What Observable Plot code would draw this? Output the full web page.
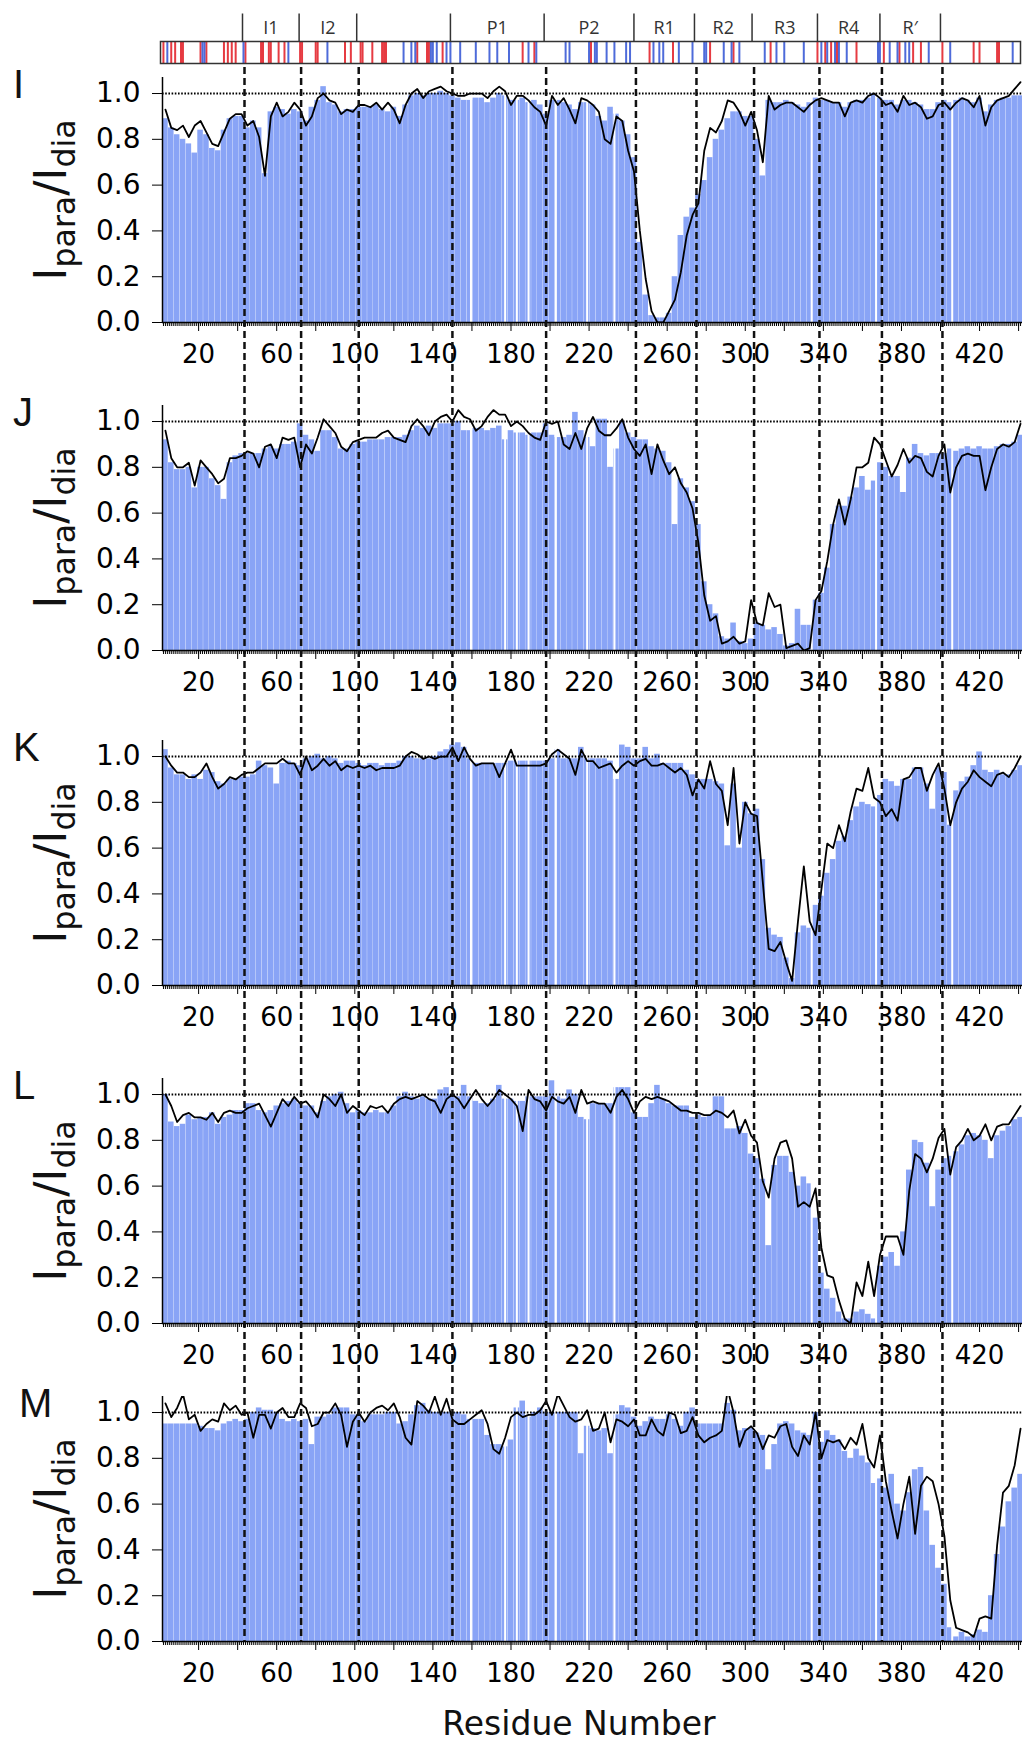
<!DOCTYPE html>
<html><head><meta charset="utf-8">
<script src="https://cdn.jsdelivr.net/npm/d3@7"></script>
<script src="https://cdn.jsdelivr.net/npm/@observablehq/plot@0.6"></script>
<style>
body{margin:0;background:#fff;}
#fig{position:relative;width:1029px;height:1764px;overflow:hidden;background:#fff;}
#fig svg{position:absolute;left:0;background:transparent;}
.letter{position:absolute;font-family:"Liberation Sans",Arial,sans-serif;font-size:40px;line-height:1;color:#111;}
.ylab{position:absolute;font-family:"DejaVu Sans",sans-serif;font-size:45px;line-height:1;white-space:nowrap;transform:translate(-50%,-50%) rotate(-90deg);color:#111;}
.ylab .sub{font-size:0.7em;position:relative;top:0.28em;}
.xlab{position:absolute;font-family:"DejaVu Sans",sans-serif;font-size:33px;line-height:1;white-space:nowrap;transform:translateX(-50%);color:#111;}
</style></head>
<body><div id="fig"></div>
<script>
// ---------- data ----------
const residues = d3.range(3, 442, 3); // residue index of each sample (every 3rd residue)
const domainBounds = [43.5, 72.5, 102, 150, 198, 244, 275, 304.5, 338, 370, 401];
const domainNames = ["I1","I2","","P1","P2","R1","R2","R3","R4","R\u2032"];
const acidic = [3,7,9,12,13,22,25,34,36,38,40,45,53,54,57,58,62,65,73,74,81,82,96,99,104,105,110,115,116,117,133,138,139,146,187,193,222,252,264,283,295,314,338,342,345,348,358,372,380,387,391,402,418,421,430,431];
const basic = [5,23,24,44,67,87,126,130,132,140,141,143,148,150,155,163,170,174,180,190,194,209,211,221,224,225,230,234,240,242,254,257,259,267,274,280,281,290,294,298,311,317,321,331,340,343,347,349,353,369,370,375,379,383,385,395,406,438];
const gaps = [159.5,177,183,189,203,219,233,334,367,406];
const yTicks = [0,0.2,0.4,0.6,0.8,1.0];
const majorTicks = d3.range(20, 441, 20);
const minorTicks = d3.range(2, 442, 1);
const labelTicks = d3.range(20, 421, 40);
const panelLetters = ["I","J","K","L","M"];

// values in percent (Ipara/Idia x 100), one per entry of residues
const lineI = [93,85,84,86,81,86,88,83,78,77, 83,89,91,91,86,88,81,64,90,96, 90,92,96,93,86,90,98,100,97,96, 91,93,92,95,95,94,96,93,96,93, 87,95,100,102,98,101,102,103,101,100, 99,99,100,100,100,98,101,103,101,95, 99,99,97,94,92,86,99,95,98,93, 87,98,97,95,92,80,78,90,88,75, 66,40,19,5,0,0,5,10,22,38, 47,52,75,85,83,88,97,96,92,86, 92,84,70,99,93,95,96,96,94,92, 95,97,98,97,96,96,90,96,97,96, 99,100,98,95,96,92,99,95,96,94, 89,90,95,96,93,96,98,97,94,99, 86,94,97,98,99,102,105];
const barI = [89,85,82,80,78,74,84,82,76,75, 84,89,90,90,85,88,85,65,92,94, 93,91,93,92,88,94,97,103,96,95, 92,93,93,94,94,94,95,93,92,94, 90,95,99,100,99,100,100,101,100,99, 98,97,97,98,98,96,98,100,99,97, 97,98,96,97,95,91,97,97,96,95, 93,96,96,95,90,88,94,91,88,82, 72,35,12,3,2,2,4,20,38,46, 50,56,62,72,80,84,89,92,92,90, 90,80,64,97,96,96,97,96,95,94, 96,98,97,97,96,96,94,96,97,97, 98,100,98,97,97,95,97,97,96,95, 93,93,96,97,96,97,98,97,96,98, 92,95,97,98,98,99,99];
const lineJ = [96,84,80,80,82,72,83,80,77,73, 75,84,84,85,87,86,80,89,90,84, 93,92,93,80,90,86,93,101,98,95, 89,87,91,92,93,93,93,95,96,93, 92,91,98,101,98,94,100,102,103,100, 105,102,101,96,98,102,105,103,103,98, 100,98,95,93,92,100,99,100,90,88, 95,88,97,102,96,94,94,97,101,93, 88,85,90,77,90,83,77,80,73,69, 62,47,24,13,15,3,4,6,3,4, 22,12,11,25,19,20,1,2,3,0, 1,22,26,39,55,66,55,66,80,80, 82,93,90,83,76,81,88,82,85,84, 78,76,85,90,69,80,85,86,85,85, 70,80,88,90,89,91,99];
const barJ = [92,82,79,79,80,71,80,80,75,72, 66,82,85,86,86,86,86,88,89,88, 90,90,91,99,94,92,87,96,96,93, 88,88,90,91,91,92,92,92,93,93, 93,94,96,98,97,98,97,99,99,99, 100,96,96,97,97,96,97,98,92,96, 95,95,94,95,95,99,94,93,93,94, 104,96,93,89,101,101,80,88,100,95, 93,92,92,89,88,87,82,55,75,71, 65,55,30,20,16,6,5,12,4,3, 5,12,11,9,10,7,2,3,18,11, 11,22,25,36,55,63,63,67,71,76, 70,74,82,80,76,76,69,84,90,86, 85,86,86,86,88,87,88,89,88,89, 88,88,89,90,90,91,94];
const lineK = [100,96,93,93,91,91,93,97,91,86, 88,91,90,92,93,93,95,97,97,97, 99,97,97,92,100,94,96,99,96,98, 94,96,95,96,95,96,94,95,95,95, 96,100,102,101,99,100,99,100,100,104, 98,104,99,96,97,97,97,91,97,103, 96,96,96,96,96,97,101,103,101,99, 92,103,98,98,95,96,97,93,96,98, 96,98,99,96,96,97,95,93,95,92, 83,90,86,98,88,85,70,95,62,80, 75,74,45,16,15,19,10,2,28,52, 28,22,42,62,60,70,63,76,86,85, 95,82,80,74,77,72,90,91,95,95, 85,92,97,86,70,80,86,89,94,91, 89,87,92,93,91,95,100];
const barK = [103,95,92,92,90,92,90,94,93,89, 88,90,90,91,91,92,98,96,95,88, 97,98,97,96,99,100,101,99,100,99, 97,98,98,97,96,97,97,96,97,97, 98,100,100,99,99,99,100,102,103,105, 106,104,99,97,97,97,97,97,97,98, 98,98,98,98,98,98,99,103,99,99, 99,104,99,99,99,99,98,90,105,104, 99,99,104,99,101,97,97,97,97,94, 92,90,90,90,89,88,61,88,60,80, 75,77,55,25,22,21,12,3,23,26, 25,35,39,49,55,63,65,72,78,80, 79,78,83,90,89,87,90,90,95,95, 88,77,95,93,70,85,89,91,96,102, 94,93,94,92,92,94,96];
const lineL = [100,95,88,91,92,90,90,89,92,88, 92,93,92,92,94,95,96,91,86,92, 98,95,99,96,97,94,90,100,98,95, 100,92,95,93,91,95,94,95,92,96, 98,99,98,99,100,98,97,92,98,100, 98,94,98,102,98,95,98,102,100,98, 95,84,102,98,97,93,99,97,96,99, 92,102,96,97,96,96,92,99,102,98, 92,97,99,98,99,98,97,95,93,93, 92,92,91,91,93,92,90,93,83,89, 82,79,62,55,72,79,80,72,51,53, 51,59,33,21,20,10,2,0,18,12, 27,12,30,38,38,38,30,58,74,72, 66,72,81,85,65,77,80,85,80,82, 87,80,86,87,87,91,95];
const barL = [100,88,86,87,91,89,90,90,92,87, 90,91,93,93,96,96,93,92,93,95, 96,97,98,96,95,95,92,97,99,100, 101,96,92,93,92,92,93,92,92,95, 99,101,99,98,99,98,98,102,103,100, 99,104,99,97,96,96,98,104,98,98, 97,97,99,99,99,99,106,99,98,102, 100,90,89,96,96,96,96,103,103,103, 92,90,90,96,104,98,96,95,95,95, 90,91,90,91,99,99,85,85,86,83, 74,72,63,34,69,73,73,66,60,64, 61,46,22,15,11,5,2,2,5,6, 4,2,25,29,31,25,40,67,80,79, 70,51,67,72,73,75,78,82,83,82, 80,72,82,84,86,89,90];
const lineM = [104,98,102,108,97,99,92,95,97,96, 104,101,103,99,100,89,99,99,93,100, 102,98,98,104,102,94,95,100,100,104, 99,85,96,100,96,100,102,103,101,104, 98,89,86,105,103,100,107,99,106,97, 95,95,97,99,101,95,84,82,89,98, 100,98,99,99,101,105,99,108,103,98, 96,97,101,92,93,100,87,97,96,94, 97,90,90,97,92,90,100,99,91,92, 98,90,87,89,90,92,110,100,85,92, 94,91,84,90,89,94,95,85,81,90, 86,100,80,88,87,88,84,89,86,95, 80,76,90,70,57,45,60,72,47,68, 72,70,60,46,18,6,5,4,2,10, 11,10,42,65,68,77,93];
const barM = [95,95,95,95,95,95,94,93,93,92, 95,96,97,96,97,100,102,101,101,100, 97,96,97,96,97,86,98,98,99,102, 102,102,99,99,96,99,99,99,100,100, 95,96,99,103,104,101,100,100,100,100, 100,99,97,97,97,90,86,86,85,88, 102,105,98,100,102,100,100,100,100,100, 100,82,94,93,92,93,82,99,103,102, 98,94,96,98,97,97,99,97,94,100, 102,95,95,95,95,95,104,101,92,93, 93,91,90,75,86,95,96,95,92,91, 90,100,87,92,90,88,83,80,84,81, 78,69,71,67,73,60,57,65,75,76, 57,42,32,25,6,2,4,2,3,5, 4,20,38,50,61,67,73];

const panels = [[barI,lineI],[barJ,lineJ],[barK,lineK],[barL,lineL],[barM,lineM]];

// ---------- layout / style ----------
const W = 1029, H = 1764, ML = 162, MR = 7;
const XD = [1.5, 442];
const BAR = "#89a4f6", RED = "#e3262d", BLUE = "#3b5bd6";
const panelTops = [77, 405, 740, 1078, 1396];
const PH = 245, PMT = 10, PMB = 45;
const fig = document.getElementById("fig");

function place(el, top) { el.style.top = top + "px"; fig.appendChild(el); }

// domain strip
const segs = domainNames.map((name, i) => ({name, mid: (domainBounds[i] + domainBounds[i + 1]) / 2}));
const strip = Plot.plot({
  width: W, height: 70, marginLeft: ML - 2, marginRight: MR + 2, marginTop: 41, marginBottom: 7,
  x: {domain: XD, axis: null}, y: {domain: [0, 1], axis: null},
  style: {background: "transparent", overflow: "visible"},
  marks: [
    Plot.ruleX(acidic, {stroke: RED, strokeWidth: 2, strokeOpacity: 0.9}),
    Plot.ruleX(basic, {stroke: BLUE, strokeWidth: 2, strokeOpacity: 0.9}),
    Plot.frame({stroke: "#333", strokeWidth: 1.5}),
    Plot.ruleX(domainBounds, {y1: 1, y2: 2.25, stroke: "#333", strokeWidth: 1.5}),
    Plot.text(segs, {x: "mid", y: 1.6, text: "name", fontSize: 18, fill: "#333", fontFamily: "Open Sans"})
  ]
});
place(strip, 0);

// panels
panels.forEach(([bar, line], p) => {
  const data = residues.map((r, i) => ({r, x1: r - 1.5, x2: r + 1.5, bar: bar[i] / 100, line: line[i] / 100}));
  const chart = Plot.plot({
    width: W, height: PH + PMT + PMB, marginLeft: ML, marginRight: MR, marginTop: PMT, marginBottom: PMB,
    x: {domain: XD}, y: {domain: [0, 1.07]},
    style: {background: "transparent", overflow: "visible", fontFamily: "DejaVu Sans", color: "#000"},
    marks: [
      Plot.rectY(data, {x1: "x1", x2: "x2", y: "bar", fill: BAR, insetLeft: 0.15, insetRight: 0.15, clip: true}),
      Plot.ruleX(gaps, {stroke: "#fff", strokeWidth: 2}),
      Plot.ruleY([1], {stroke: "#000", strokeWidth: 2, strokeDasharray: "1.6,1.6"}),
      Plot.lineY(data, {x: "r", y: "line", stroke: "#000", strokeWidth: 1.8, clip: true}),
      Plot.ruleY([0], {stroke: "#000", strokeWidth: 1.5}),
      Plot.ruleX([XD[0]], {stroke: "#000", strokeWidth: 1.5}),
      Plot.axisY(yTicks, {tickSize: 10, tickPadding: 12, fontSize: 28, tickFormat: d3.format(".1f"), label: null}),
      Plot.axisX(minorTicks, {tickSize: 4, tickFormat: () => "", label: null}),
      Plot.axisX(majorTicks, {tickSize: 9, tickFormat: () => "", label: null}),
      Plot.axisX(labelTicks, {tickSize: 0, tickPadding: 22, fontSize: 26, tickFormat: d => String(d), label: null})
    ]
  });
  place(chart, panelTops[p] - PMT);

  const letter = document.createElement("div");
  letter.className = "letter";
  letter.textContent = panelLetters[p];
  letter.style.left = (p === 4 ? 19 : 13) + "px";
  place(letter, panelTops[p] - 13);

  const yl = document.createElement("div");
  yl.className = "ylab";
  yl.innerHTML = 'I<span class="sub">para</span>/I<span class="sub">dia</span>';
  yl.style.left = "50px";
  place(yl, panelTops[p] + PH / 2);
});

// dashed domain boundaries through all panels
const overlay = Plot.plot({
  width: W, height: H, marginLeft: ML, marginRight: MR, marginTop: 67, marginBottom: H - (panelTops[4] + PH),
  x: {domain: XD, axis: null}, y: {domain: [0, 1], axis: null},
  style: {background: "transparent", overflow: "visible", pointerEvents: "none"},
  marks: [Plot.ruleX(domainBounds, {stroke: "#111", strokeWidth: 2.5, strokeDasharray: "7,4"})]
});
place(overlay, 0);

const xl = document.createElement("div");
xl.className = "xlab";
xl.textContent = "Residue Number";
xl.style.left = "579px";
place(xl, 1707);
</script></body></html>
